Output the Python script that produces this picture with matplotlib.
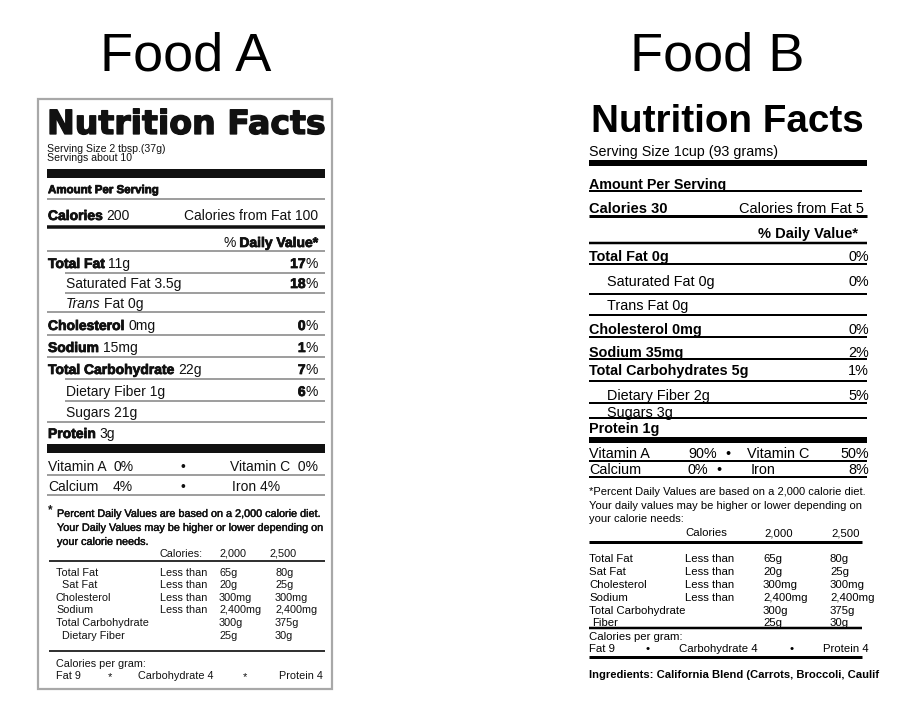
import matplotlib
matplotlib.use("Agg")
import matplotlib.pyplot as plt
from matplotlib.patches import Rectangle
import matplotlib.patheffects as pe

# ---------------- data ----------------
foods = ["Food A", "Food B"]

# Food A label
a_serving = ["Serving Size 2 tbsp.(37g)", "Servings about 10"]
a_calories = "200"
a_cal_fat = "100"
a_nutrients = ["Total Fat", "Saturated Fat", "Trans Fat", "Cholesterol", "Sodium",
               "Total Carbohydrate", "Dietary Fiber", "Sugars", "Protein"]
a_amounts = ["11g", "3.5g", "0g", "0mg", "15mg", "22g", "1g", "21g", "3g"]
a_dv = ["17", "18", "", "0", "1", "7", "6", "", ""]
a_vitamins = ["Vitamin A", "Vitamin C", "Calcium", "Iron"]
a_vit_dv = ["0%", "0%", "4%", "4%"]
a_note = ["Percent Daily Values are based on a 2,000 calorie diet.",
          "Your Daily Values may be higher or lower depending on",
          "your calorie needs."]
a_ref_head = ["Calories:", "2,000", "2,500"]
a_ref_nutrients = ["Total Fat", "Sat Fat", "Cholesterol", "Sodium", "Total Carbohydrate", "Dietary Fiber"]
a_ref_limit = ["Less than", "Less than", "Less than", "Less than", "", ""]
a_ref_2000 = ["65g", "20g", "300mg", "2,400mg", "300g", "25g"]
a_ref_2500 = ["80g", "25g", "300mg", "2,400mg", "375g", "30g"]
a_cal_gram = ["Fat 9", "Carbohydrate 4", "Protein 4"]

# Food B label
b_serving = "Serving Size 1cup (93 grams)"
b_calories = "30"
b_cal_fat = "5"
b_nutrients = ["Total Fat", "Saturated Fat", "Trans Fat", "Cholesterol", "Sodium",
               "Total Carbohydrates", "Dietary Fiber", "Sugars", "Protein"]
b_amounts = ["0g", "0g", "0g", "0mg", "35mg", "5g", "2g", "3g", "1g"]
b_dv = ["0%", "0%", "", "0%", "2%", "1%", "5%", "", ""]
b_vitamins = ["Vitamin A", "Vitamin C", "Calcium", "Iron"]
b_vit_dv = ["90%", "50%", "0%", "8%"]
b_note = ["*Percent Daily Values are based on a 2,000 calorie diet.",
          "Your daily values may be higher or lower depending on",
          "your calorie needs:"]
b_ref_head = ["Calories", "2,000", "2,500"]
b_ref_nutrients = ["Total Fat", "Sat Fat", "Cholesterol", "Sodium", "Total Carbohydrate", "Fiber"]
b_ref_limit = ["Less than", "Less than", "Less than", "Less than", "", ""]
b_ref_2000 = ["65g", "20g", "300mg", "2,400mg", "300g", "25g"]
b_ref_2500 = ["80g", "25g", "300mg", "2,400mg", "375g", "30g"]
b_cal_gram = ["Fat 9", "Carbohydrate 4", "Protein 4"]
b_ingredients = "Ingredients: California Blend (Carrots, Broccoli, Caulif"

# ---------------- canvas ----------------
W, H = 915, 706
fig = plt.figure(figsize=(W / 100, H / 100), dpi=100)
ax = fig.add_axes([0, 0, 1, 1])
ax.set_xlim(0, W)
ax.set_ylim(H, 0)
ax.axis("off")
R = fig.canvas.get_renderer()
FAM = "Liberation Sans"
HEAVY = [pe.withStroke(linewidth=0.55, foreground="#111111")]


def em(size):
    return size * 100 / 72


def put(x, y, s, size, weight="normal", ha="left", style="normal", color="#111111",
        family=FAM, effects=None):
    t = ax.text(x, y + 0.36 * em(size), s, fontsize=size, fontweight=weight,
                fontstyle=style, family=family, ha=ha, va="baseline", color=color)
    if effects:
        t.set_path_effects(effects)
    return t


def runs(x, y, parts, size, ha="left", color="#111111"):
    """parts: (text, weight, style, heavy); a leading space means a word gap."""
    sp = 0.278 * em(size)
    cx = x
    seq = parts if ha == "left" else parts[::-1]
    for s, w, st, hv in seq:
        gap = s.startswith(" ")
        s = s.strip()
        if ha == "left":
            if gap:
                cx += sp
            t = put(cx, y, s, size, weight=w, style=st, color=color,
                    effects=HEAVY if hv else None)
            cx += t.get_window_extent(R).width
        else:
            t = put(cx, y, s, size, weight=w, style=st, ha="right", color=color,
                    effects=HEAVY if hv else None)
            cx -= t.get_window_extent(R).width
            if gap:
                cx -= sp


def hline(x0, x1, y, px, color="#111111"):
    ax.plot([x0, x1], [y, y], color=color, lw=px * 0.72, solid_capstyle="butt")


def bar(x0, x1, y0, y1, color="#111111"):
    ax.add_patch(Rectangle((x0, y0), x1 - x0, y1 - y0, color=color, lw=0))


# ---------------- titles ----------------
put(186, 51, foods[0], 39, color="black", ha="center")
put(717, 51, foods[1], 39, color="black", ha="center")

# ================= Food A =================
ax.add_patch(Rectangle((38, 99), 294, 590, fill=False, ec="#a8a8a8", lw=1.6))
L, RT, XR = 47, 325, 318
GRAY = "#808080"
put(L, 122, "Nutrition Facts", 23.9, weight="bold", family="DejaVu Sans",
    color="#111111", effects=[pe.withStroke(linewidth=1.0, foreground="#111111")])
put(L, 148.5, a_serving[0], 7.6)
put(L, 157.5, a_serving[1], 7.6)
bar(L, RT, 169, 178)
put(48, 189, "Amount Per Serving", 8.3, weight="bold", effects=HEAVY)
hline(L, RT, 199, 1.5, GRAY)
runs(48, 215, [("Calories", "bold", "normal", True), (" " + a_calories, "normal", "normal", False)], 10)
put(XR, 215, "Calories from Fat " + a_cal_fat, 10, ha="right")
hline(L, RT, 226.5, 3.5)
runs(XR, 242, [("%", "normal", "normal", False), (" Daily Value*", "bold", "normal", True)], 10, ha="right")
hline(L, RT, 251, 1.5, GRAY)

a_row_y = [263, 283, 303, 325, 347, 369, 391, 412, 433]
a_sub = [0, 1, 1, 0, 0, 0, 1, 1, 0]
a_line_y = [273, 293, 312, 335, 357, 379, 401, 422]
a_line_indent = [1, 1, 0, 0, 0, 1, 1, 0]
for i, (n, amt, dv) in enumerate(zip(a_nutrients, a_amounts, a_dv)):
    y = a_row_y[i]
    if a_sub[i]:
        if n.startswith("Trans"):
            runs(66, y, [("Trans", "normal", "italic", False),
                         (" Fat " + amt, "normal", "normal", False)], 10)
        else:
            put(66, y, n + " " + amt, 10)
    else:
        runs(48, y, [(n, "bold", "normal", True), (" " + amt, "normal", "normal", False)], 10)
    if dv:
        runs(XR, y, [(dv, "bold", "normal", True), ("%", "normal", "normal", False)], 10, ha="right")
for y, ind in zip(a_line_y, a_line_indent):
    hline(65 if ind else L, RT, y, 1.5, GRAY)
bar(L, RT, 444, 453)

put(48, 466, a_vitamins[0], 10)
put(113, 466, a_vit_dv[0], 10)
put(183, 466, "\u2022", 10, ha="center")
put(XR, 466, a_vitamins[1] + "  " + a_vit_dv[1], 10, ha="right")
hline(L, RT, 474.5, 1.5, GRAY)
put(48, 486, a_vitamins[2], 10)
put(113, 486, a_vit_dv[2], 10)
put(183, 486, "\u2022", 10, ha="center")
put(232, 486, a_vitamins[3] + " " + a_vit_dv[3], 10)
hline(L, RT, 494.5, 1.5, GRAY)

put(48, 509, "*", 8.5, weight="bold")
for y, s in zip([513, 527, 541], a_note):
    put(57, y, s, 7.8, effects=[pe.withStroke(linewidth=0.3, foreground="#111111")])
for x, s in zip([159, 219, 270], a_ref_head):
    put(x, 553, s, 7.8)
hline(49, RT, 561, 2.0, "#333333")
a_ref_y = [572, 584.5, 597, 609, 622, 635]
for i, y in enumerate(a_ref_y):
    put(62 if i in (1, 5) else 56, y, a_ref_nutrients[i], 7.8)
    if a_ref_limit[i]:
        put(160, y, a_ref_limit[i], 7.8)
    put(219, y, a_ref_2000[i], 7.8)
    put(275, y, a_ref_2500[i], 7.8)
hline(49, RT, 651, 2.0, "#333333")
put(56, 663, "Calories per gram:", 7.8)
put(56, 675, a_cal_gram[0], 7.8)
put(110, 676, "*", 8, ha="center")
put(138, 675, a_cal_gram[1], 7.8)
put(245, 676, "*", 8, ha="center")
put(323, 675, a_cal_gram[2], 7.8, ha="right")

# ================= Food B =================
BL, BR, BX = 589, 867, 869
put(591, 118, "Nutrition Facts", 27.8, weight="bold", color="black")
put(BL, 151, b_serving, 10.3, color="black")
bar(BL, BR, 159.5, 165.5, "black")
put(BL, 184, "Amount Per Serving", 10.3, weight="bold", color="black")
hline(BL, 862, 190.5, 2.0, "black")
put(BL, 208, "Calories " + b_calories, 10.5, weight="bold", color="black")
put(BX - 5, 208, "Calories from Fat " + b_cal_fat, 10.5, ha="right", color="black")
hline(BL, BR, 215.5, 3.0, "black")
put(858, 233, "% Daily Value*", 10.5, weight="bold", ha="right", color="black")
hline(BL, BR, 242.5, 2.5, "black")

b_row_y = [256, 281, 305, 329, 352, 370, 395, 412, 428]
b_sub = [0, 1, 1, 0, 0, 0, 1, 1, 0]
b_line_y = [263.5, 294, 315, 337, 359, 381, 403, 417.5]
for i, (n, amt, dv) in enumerate(zip(b_nutrients, b_amounts, b_dv)):
    y = b_row_y[i]
    if b_sub[i]:
        put(607, y, n + " " + amt, 10.4, color="black")
    else:
        put(BL, y, n + " " + amt, 10.4, weight="bold", color="black")
    if dv:
        put(BX, y, dv, 10.4, ha="right", color="black")
for y in b_line_y:
    hline(BL, BR, y, 2.0, "black")
bar(BL, BR, 437, 443, "black")

put(BL, 453, b_vitamins[0], 10.4, color="black")
put(717, 453, b_vit_dv[0], 10.4, ha="right", color="black")
put(728, 453, "\u2022", 10.4, ha="center", color="black")
put(747, 453, b_vitamins[1], 10.4, color="black")
put(BX, 453, b_vit_dv[1], 10.4, ha="right", color="black")
hline(BL, BR, 460.5, 2.0, "black")
put(BL, 469, b_vitamins[2], 10.4, color="black")
put(708, 469, b_vit_dv[2], 10.4, ha="right", color="black")
put(719, 469, "\u2022", 10.4, ha="center", color="black")
put(751, 469, b_vitamins[3], 10.4, color="black")
put(BX, 469, b_vit_dv[3], 10.4, ha="right", color="black")
hline(BL, BR, 476.5, 2.0, "black")

for y, s in zip([491, 505, 518], b_note):
    put(BL, y, s, 8.0, color="black")
for x, s in zip([685, 764, 831], b_ref_head):
    put(x, 532, s, 8.2, color="black")
hline(BL, 862, 542, 3.0, "black")
b_ref_y = [558, 571, 584, 597, 610, 622]
for i, y in enumerate(b_ref_y):
    put(592 if i == 5 else BL, y, b_ref_nutrients[i], 8.2, color="black")
    if b_ref_limit[i]:
        put(685, y, b_ref_limit[i], 8.2, color="black")
    put(763, y, b_ref_2000[i], 8.2, color="black")
    put(830, y, b_ref_2500[i], 8.2, color="black")
hline(BL, 862, 627.5, 2.5, "black")
put(BL, 636, "Calories per gram:", 8.2, color="black")
put(BL, 648, b_cal_gram[0], 8.2, color="black")
put(648, 648, "\u2022", 8.2, ha="center", color="black")
put(679, 648, b_cal_gram[1], 8.2, color="black")
put(792, 648, "\u2022", 8.2, ha="center", color="black")
put(BX, 648, b_cal_gram[2], 8.2, ha="right", color="black")
hline(BL, 862, 657, 3.0, "black")
put(BL, 674, b_ingredients, 8.1, weight="bold", color="black")

fig.savefig("out.png", dpi=100, facecolor="white")
